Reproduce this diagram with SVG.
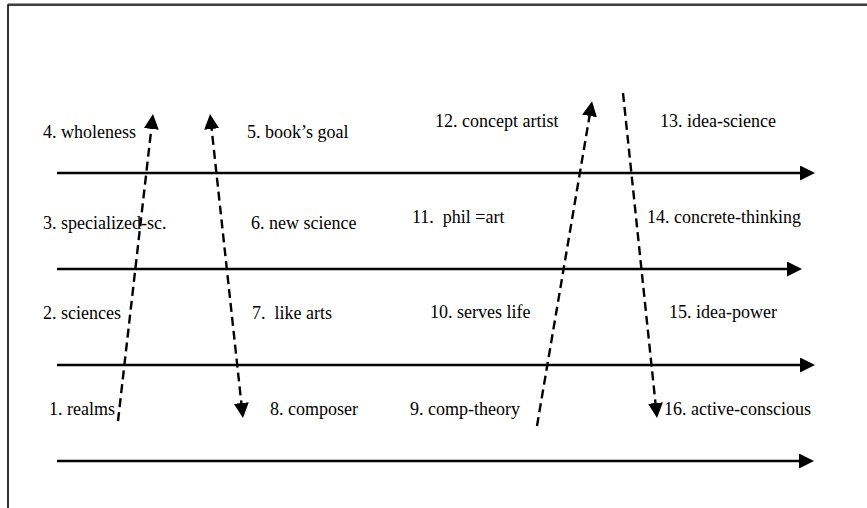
<svg xmlns="http://www.w3.org/2000/svg" width="867" height="508" viewBox="0 0 867 508">
<style>
  text { font-family: "Liberation Serif", "Times New Roman", serif; font-size: 18px; fill: #000; }
  .axis { stroke: #000; stroke-width: 2.6; fill: none; marker-end: url(#head); }
  .flow { stroke: #000; stroke-width: 2.4; stroke-dasharray: 9 5; fill: none; }
</style>
<defs>
  <marker id="head" markerUnits="userSpaceOnUse" markerWidth="15" markerHeight="15" refX="7" refY="7.5" orient="auto-start-reverse" viewBox="0 0 15 15">
    <path d="M0,0 L15,7.5 L0,15 z" fill="#000"/>
  </marker>
</defs>
<rect width="867" height="508" fill="#fff"/>
<g id="frame">
  <line x1="8" y1="3.5" x2="867" y2="3.5" stroke="#999" stroke-width="1"/>
  <path d="M8,508 V5 H867" fill="none" stroke="#000" stroke-width="1.6"/>
</g>
<g id="connectors">
  <line class="axis" x1="57" y1="173" x2="807" y2="173"/>
  <line class="axis" x1="57" y1="269" x2="794" y2="269"/>
  <line class="axis" x1="57" y1="365" x2="807" y2="365"/>
  <line class="axis" x1="57" y1="461" x2="806" y2="461"/>
  <line class="flow" x1="118" y1="421" x2="152.1" y2="122" marker-end="url(#head)"/>
  <line class="flow" x1="210.9" y1="122" x2="242.1" y2="410" marker-start="url(#head)" marker-end="url(#head)"/>
  <line class="flow" x1="537" y1="426" x2="590.7" y2="109.1" marker-end="url(#head)"/>
  <line class="flow" x1="623" y1="93" x2="656.2" y2="410" marker-end="url(#head)"/>
</g>
<g id="n4"><text x="43" y="138">4. wholeness</text></g>
<g id="n5"><text x="247" y="138">5. book’s goal</text></g>
<g id="n12"><text x="435" y="127">12. concept artist</text></g>
<g id="n13"><text x="660" y="127">13. idea-science</text></g>
<g id="n3"><text x="43" y="229">3. specialized-sc.</text></g>
<g id="n6"><text x="251" y="229">6. new science</text></g>
<g id="n11"><text x="412" y="223" xml:space="preserve">11.  phil =art</text></g>
<g id="n14"><text x="647" y="223">14. concrete-thinking</text></g>
<g id="n2"><text x="43" y="319">2. sciences</text></g>
<g id="n7"><text x="252" y="319" xml:space="preserve">7.  like arts</text></g>
<g id="n10"><text x="430" y="318">10. serves life</text></g>
<g id="n15"><text x="669" y="318">15. idea-power</text></g>
<g id="n1"><text x="49" y="415">1. realms</text></g>
<g id="n8"><text x="270" y="415">8. composer</text></g>
<g id="n9"><text x="410" y="415">9. comp-theory</text></g>
<g id="n16"><text x="664" y="415">16. active-conscious</text></g>
</svg>
